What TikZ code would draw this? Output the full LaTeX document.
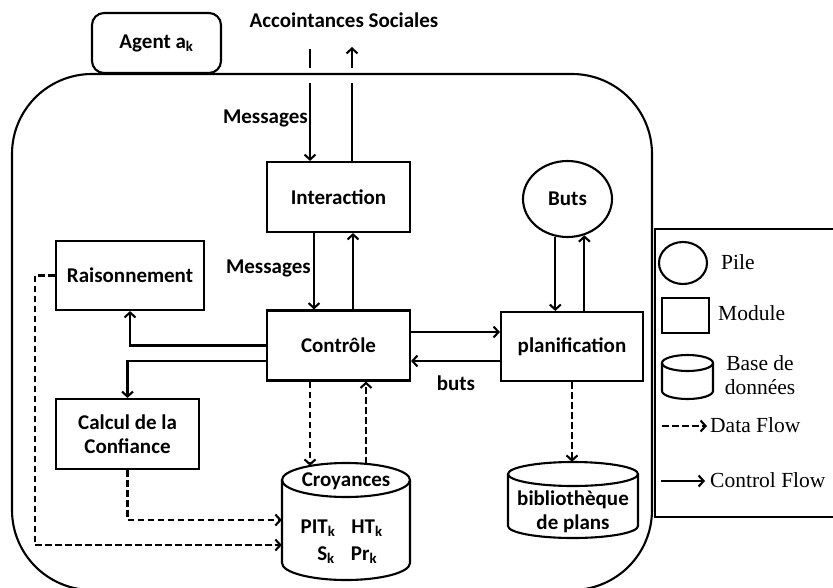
\documentclass[tikz,border=0pt]{standalone}
\usepackage{fontspec}
\newfontfamily\dfont{Carlito}
\newfontfamily\legfont{Liberation Serif}
\usetikzlibrary{arrows.meta,shapes.geometric,calc}
\tikzset{
  lw/.style={line width=2.1pt},
  box/.style={draw,lw,rectangle,inner sep=0pt,align=center,font=\dfont\bfseries\fontsize{21}{24}\selectfont},
  lbl/.style={inner sep=0pt,align=center,font=\dfont\bfseries\fontsize{21}{24}\selectfont},
  leg/.style={inner sep=0pt,align=center,font=\legfont\fontsize{21.5}{24.5}\selectfont},
  ctl/.style={lw,-{Straight Barb[length=5pt,width=11pt]}},
  data/.style={lw,dash pattern=on 6.5pt off 3.5pt,-{Straight Barb[length=5pt,width=11pt]}},
}
\begin{document}
\begin{tikzpicture}[x=1pt,y=-1pt]
\useasboundingbox (0,0) rectangle (833,587);

% nodes
\node[box,minimum width=143,minimum height=70] (int) at (338.5,197) {Interaction};
\node[box,minimum width=143,minimum height=70] (ctrl) at (338.5,345.5) {Contrôle};
\node[box,minimum width=148,minimum height=69] (rais) at (130,275.5) {Raisonnement};
\node[box,minimum width=143,minimum height=70] (calc) at (127.5,434) {Calcul de la\\Confiance};
\node[box,minimum width=142,minimum height=69] (plan) at (572,346.5) {planification};
\node[box,ellipse,minimum width=89,minimum height=76] (buts) at (567.5,199) {Buts};

% Croyances cylinder
\node[inner sep=0,minimum width=128,minimum height=117] (croy) at (346,521.5) {};
\draw[lw] (282,480) -- (282,563) arc[start angle=180,end angle=0,x radius=64,y radius=17] -- (410,480);
\draw[lw] (346,480) ellipse[x radius=64,y radius=17];
\node[lbl] (croyt) at (346,481) {Croyances};
\node[lbl] (pit) at (318,528) {PIT\textsubscript{k}};
\node[lbl] (ht) at (367,528) {HT\textsubscript{k}};
\node[lbl] (sk) at (326,555) {S\textsubscript{k}};
\node[lbl] (pr) at (364,555) {Pr\textsubscript{k}};

% bibliotheque cylinder
\node[inner sep=0,minimum width=130,minimum height=76] (bib) at (573,500) {};
\draw[lw] (508,474) -- (508,526) arc[start angle=180,end angle=0,x radius=65,y radius=12] -- (638,474);
\draw[lw] (573,474) ellipse[x radius=65,y radius=12];
\node[lbl] (bibt) at (573,512) {bibliothèque\\de plans};

% top labels
\node[lbl] (acc) at (344,20) {Accointances Sociales};
\coordinate (inTop) at (310,49);
\coordinate (outTop) at (352,47);
\node[lbl,anchor=east] (msg1) at (308,118) {Messages};
\node[lbl,anchor=east] (msg2) at (311,268) {Messages};
\node[lbl] (butslbl) at (456,383) {buts};

% connectors
\draw[ctl] (inTop) -- (inTop |- int.north);
\draw[ctl] (outTop |- int.north) -- (outTop);
\draw[ctl] ([xshift=-24.5pt]int.south) -- ([xshift=-24.5pt]ctrl.north);
\draw[ctl] ([xshift=14.5pt]ctrl.north) -- ([xshift=14.5pt]int.south);
\draw[ctl] (ctrl.west) -| (rais.south);
\draw[ctl] ([yshift=-15.5pt]ctrl.west) -| (calc.north);
\draw[ctl] ([yshift=13.5pt]ctrl.east) -- ([yshift=13.5pt]ctrl.east -| plan.west);
\draw[ctl] ([yshift=-14.5pt]plan.west) -- ([yshift=-14.5pt]plan.west -| ctrl.east);
\draw[ctl] (buts.252) -- (buts.252 |- plan.north);
\draw[ctl] (plan.north -| buts.295) -- (buts.295);
\draw[data] ([xshift=-28.5pt]ctrl.south) -- ([xshift=-36pt,yshift=-3pt]croy.north);
\draw[data] ([xshift=20pt,yshift=-1pt]croy.north) -- ([xshift=27.5pt]ctrl.south);
\draw[data] (calc.south) |- ([yshift=1.5pt]croy.west);
\draw[data] (rais.west) -- ++(-20,0) |- ([yshift=-23.5pt]croy.west);
\draw[data] (plan.south) -- (plan.south |- bib.north);

% gaps where social arrows cross the border
\fill[white] (304,68) rectangle (316,83);
\fill[white] (346,68) rectangle (358,83);

% outer agent border
\draw[lw] (12,590) [rounded corners=80pt] -- (12,74) -- (652,74) -- (652,590) -- cycle;
\node[box,rounded corners=12pt,fill=white,minimum width=129,minimum height=60] (agent) at (156.5,43) {Agent a\textsubscript{k}};

% legend
\draw[lw] (840,229) -- (655,229) -- (655,517) -- (840,517);
\node[draw,lw,ellipse,minimum width=48,minimum height=42,inner sep=0] (lpile) at (683,263) {};
\node[leg,anchor=west] (tpile) at (721,262) {Pile};
\node[draw,lw,minimum width=47,minimum height=35,inner sep=0] (lmod) at (685.5,315.5) {};
\node[leg,anchor=west] (tmod) at (718,313) {Module};
\draw[lw] (662,363) -- (662,391) arc[start angle=180,end angle=0,x radius=25.5,y radius=8] -- (713,363);
\draw[lw] (687.5,363) ellipse[x radius=25.5,y radius=8];
\node[leg] (tbase) at (760,375) {Base de\\données};
\coordinate (dfA) at (662,426);
\coordinate (dfB) at (707,426);
\draw[data] (dfA) -- (dfB);
\node[leg,anchor=west] (tdf) at (710,425) {Data Flow};
\coordinate (cfA) at (661,481);
\coordinate (cfB) at (705,481);
\draw[ctl] (cfA) -- (cfB);
\node[leg,anchor=west] (tcf) at (710,480) {Control Flow};
\end{tikzpicture}
\end{document}
